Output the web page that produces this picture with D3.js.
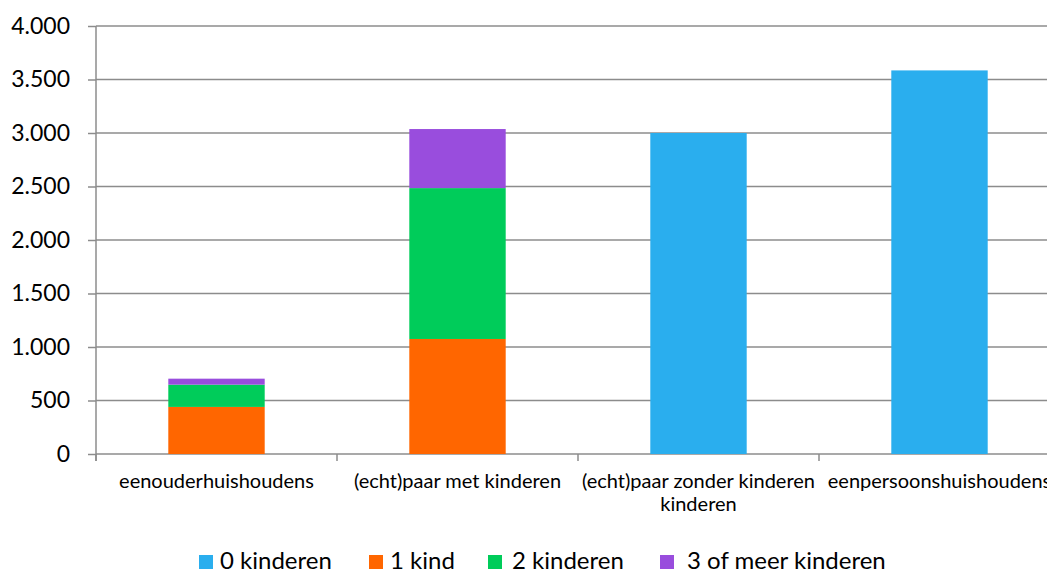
<!DOCTYPE html>
<html>
<head>
<meta charset="utf-8">
<script src="https://cdn.jsdelivr.net/npm/d3@7"></script>
<style>
  html, body { margin: 0; padding: 0; background: #fff; }
  svg { display: block; }
  text { font-family: Lato, "Open Sans", sans-serif; fill: #000; }
</style>
</head>
<body>
<svg id="chart" width="1047" height="572"></svg>
<script>
const categories = ["eenouderhuishoudens", "(echt)paar met kinderen", "(echt)paar zonder kinderen", "eenpersoonshuishoudens"];
const categoryLines = [["eenouderhuishoudens"], ["(echt)paar met kinderen"], ["(echt)paar zonder kinderen", "kinderen"], ["eenpersoonshuishoudens"]];
const seriesNames = ["0 kinderen", "1 kind", "2 kinderen", "3 of meer kinderen"];
const kinderen0 = [0, 0, 3000, 3585];
const kind1 = [440, 1075, 0, 0];
const kinderen2 = [208, 1410, 0, 0];
const kinderen3 = [56, 552, 0, 0];
const yTicks = [0, 500, 1000, 1500, 2000, 2500, 3000, 3500, 4000];
const colors = ["#2aaeee", "#ff6600", "#00cc5a", "#994ddd"];

const seriesValues = [kinderen0, kind1, kinderen2, kinderen3];
const rows = categories.map((c, i) => {
  const r = { cat: c };
  seriesNames.forEach((s, j) => r[s] = seriesValues[j][i]);
  return r;
});

const svg = d3.select("#chart");
const mLeft = 96, mRight = 1060, mTop = 26, mBottom = 454;

const x = d3.scaleBand().domain(categories).range([mLeft, mRight]).paddingInner(0.6).paddingOuter(0.3);
const y = d3.scaleLinear().domain([0, 4000]).range([mBottom, mTop]);
const fmt = v => d3.format(",")(v).replace(/,/g, ".");

// gridlines
svg.append("g").selectAll("line").data(yTicks).join("line")
  .attr("x1", mLeft).attr("x2", 1047)
  .attr("y1", d => y(d)).attr("y2", d => y(d))
  .attr("stroke", "#8c8c8c").attr("stroke-width", 1.5);

// y ticks + labels
const yAxis = svg.append("g").attr("transform", `translate(${mLeft},0)`)
  .call(d3.axisLeft(y).tickValues(yTicks).tickSize(8).tickPadding(18).tickFormat(fmt));
yAxis.select(".domain").remove();
yAxis.selectAll(".tick line").attr("stroke", "#8c8c8c").attr("stroke-width", 1.5);
yAxis.selectAll(".tick text").attr("font-size", 23).attr("font-family", "Lato").attr("fill", "#000");

// stacked bars
const stack = d3.stack().keys(seriesNames)(rows);
svg.append("g").selectAll("g").data(stack).join("g")
  .attr("fill", (d, i) => colors[i])
  .selectAll("rect").data(d => d.filter(p => p[1] - p[0] > 0)).join("rect")
  .attr("x", d => x(d.data.cat))
  .attr("width", x.bandwidth())
  .attr("y", d => y(d[1]))
  .attr("height", d => y(d[0]) - y(d[1]));

// y axis line
svg.append("line").attr("x1", mLeft).attr("x2", mLeft).attr("y1", mTop).attr("y2", mBottom + 7)
  .attr("stroke", "#8c8c8c").attr("stroke-width", 1.5);

// x axis ticks at band boundaries
const boundaries = categories.map(c => x(c) - x.step() * x.paddingOuter());
svg.append("g").selectAll("line").data(boundaries).join("line")
  .attr("x1", d => d).attr("x2", d => d).attr("y1", mBottom).attr("y2", mBottom + 7)
  .attr("stroke", "#8c8c8c").attr("stroke-width", 1.5);

// x labels
const xl = svg.append("g").selectAll("text").data(categories).join("text")
  .attr("x", d => x(d) + x.bandwidth() / 2)
  .attr("y", 488)
  .attr("text-anchor", "middle")
  .attr("font-size", 20);
xl.each(function(d, i) {
  const t = d3.select(this);
  categoryLines[i].forEach((ln, k) => {
    t.append("tspan").attr("x", x(d) + x.bandwidth() / 2).attr("dy", k === 0 ? 0 : 23).text(ln);
  });
});

// legend
const legendSquareX = [199, 369, 488, 660];
const legendTextX = [220, 390, 512, 687];
const lg = svg.append("g").selectAll("g").data(seriesNames).join("g");
lg.append("rect").attr("x", (d, i) => legendSquareX[i]).attr("y", 555).attr("width", 14).attr("height", 14)
  .attr("fill", (d, i) => colors[i]);
lg.append("text").attr("x", (d, i) => legendTextX[i]).attr("y", 569)
  .attr("font-size", 24).text(d => d);
</script>
</body>
</html>
